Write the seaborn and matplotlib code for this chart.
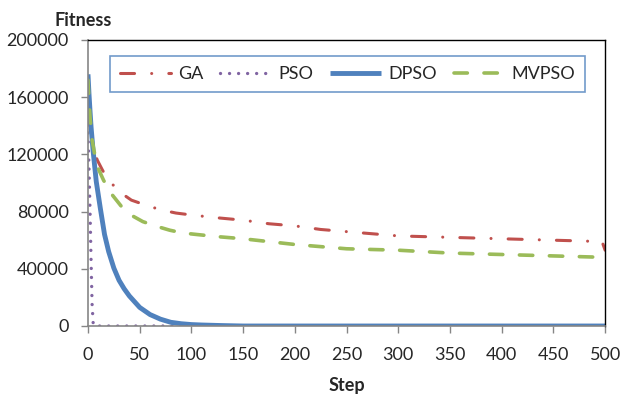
import pandas as pd
import seaborn as sns
import matplotlib.pyplot as plt

sns.set_theme(style="white")
plt.rcParams['font.family'] = ['Lato', 'DejaVu Sans']

# values
gaSteps = [0, 2, 5, 9, 14, 18, 25, 34, 42, 50, 60, 72, 85, 96, 120, 150, 175, 200, 225, 250, 275, 300, 325, 350, 375, 400, 425, 450, 475, 497, 500]
gaFitness = [150000, 135000, 124000, 116000, 109000, 104000, 98000, 92000, 88000, 86000, 83500, 81000, 79000, 78000, 76000, 74000, 71500, 70000, 67500, 66000, 64500, 63000, 62500, 62000, 61500, 61000, 60500, 60000, 59500, 59000, 53000]

psoSteps = [0, 1, 2, 3, 4, 5, 6, 500]
psoFitness = [135000, 110000, 80000, 45000, 15000, 2000, 0, 0]

dpsoSteps = [0, 1, 2, 3, 5, 8, 12, 16, 20, 25, 30, 35, 40, 50, 60, 70, 80, 90, 100, 110, 130, 150, 500]
dpsoFitness = [176000, 162000, 150000, 139000, 122000, 101000, 82000, 64000, 52000, 40500, 32000, 26000, 21000, 13000, 8000, 4800, 2600, 1600, 1000, 700, 300, 0, 0]

mvpsoSteps = [0, 1, 2, 4, 7, 10, 15, 22, 33, 43, 53, 65, 79, 92, 105, 125, 150, 175, 200, 225, 250, 275, 300, 325, 350, 375, 400, 425, 450, 475, 500]
mvpsoFitness = [172000, 158000, 146000, 130000, 118000, 110000, 102000, 93000, 83000, 77000, 73000, 70000, 67000, 65000, 64000, 62500, 61000, 59000, 57000, 55500, 54000, 53500, 53000, 52000, 51000, 50500, 50000, 49500, 49000, 48500, 48000]

series = [
    ('GA', gaSteps, gaFitness, '#C0504D', 2.2, (4.6, 5.6, 0.01, 5.6)),
    ('PSO', psoSteps, psoFitness, '#8064A2', 2.4, (0.01, 2.7)),
    ('DPSO', dpsoSteps, dpsoFitness, '#4F81BD', 3.5, None),
    ('MVPSO', mvpsoSteps, mvpsoFitness, '#9BBB59', 2.6, (3.7, 4.6)),
]

fig, ax = plt.subplots(figsize=(6.33, 4.0), dpi=100)
fig.subplots_adjust(left=0.139, right=0.956, bottom=0.185, top=0.9)

for name, steps, fitness, color, lw, dash in series:
    df = pd.DataFrame({'Step': steps, 'Fitness': fitness})
    sns.lineplot(x='Step', y='Fitness', data=df, ax=ax, color=color,
                 linewidth=lw, label=name)
    l = ax.get_lines()[-1]
    if dash is not None:
        l.set_dashes(dash)
    l.set_dash_capstyle('round')
    l.set_solid_capstyle('butt')

ax.set_xlim(0, 500)
ax.set_ylim(0, 200000)
ax.set_xticks(range(0, 501, 50))
ax.set_yticks(range(0, 200001, 40000))
ax.tick_params(axis='both', which='major', labelsize=13, direction='out', length=5,
               width=1, color='#868686', bottom=True, left=True)
ax.tick_params(axis='x', pad=10)
ax.tick_params(axis='y', pad=9)

for side in ['left', 'bottom']:
    ax.spines[side].set_color('#868686')
    ax.spines[side].set_linewidth(1.2)
for side in ['top', 'right']:
    ax.spines[side].set_color('black')
    ax.spines[side].set_linewidth(1)

ax.set_xlabel('Step', fontsize=13, fontweight='bold', labelpad=10)
ax.set_ylabel('')
ax.text(-0.01, 1.04, 'Fitness', transform=ax.transAxes, fontsize=13,
        fontweight='bold', ha='center', va='bottom')

leg = ax.legend(loc='upper center', bbox_to_anchor=(0.502, 0.975), ncol=4,
                fontsize=13, frameon=True, fancybox=False, handlelength=2.8,
                handletextpad=0.4, columnspacing=0.95, borderpad=0.55)
leg.get_frame().set_edgecolor('#4F81BD')
leg.get_frame().set_linewidth(1.2)

plt.savefig('out.png', dpi=100)
